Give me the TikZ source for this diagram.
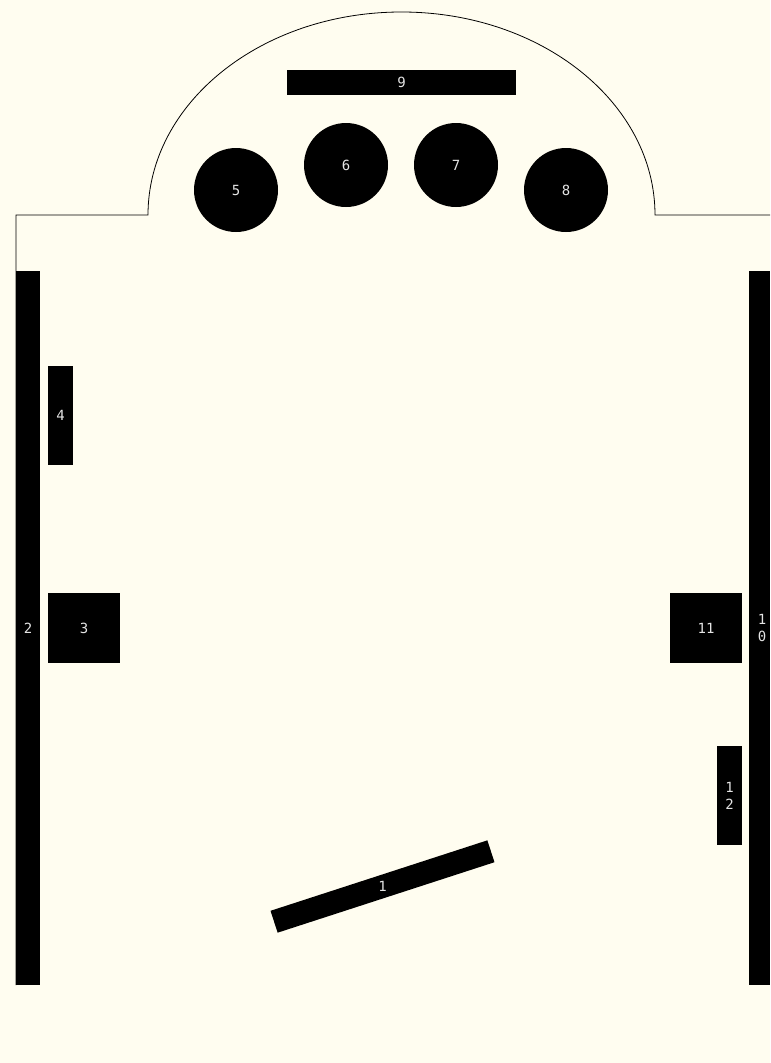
\documentclass[tikz,border=0pt]{standalone}
\usepackage{fontspec}
\newfontfamily\tablefont{DejaVu Sans Mono}
\definecolor{cream}{RGB}{255,253,240}
\definecolor{lbl}{RGB}{228,228,228}

\begin{document}
\begin{tikzpicture}[x=1pt, y=-1pt,
  part/.style={fill=black, draw=none, inner sep=0pt, text=lbl,
    font=\tablefont\fontsize{14}{17}\selectfont, align=center},
  bumper/.style={part, circle, minimum size=84pt}]
  \fill[cream] (0,0) rectangle (770,1063);

  % Table outline with the round top
  \draw[line width=0.8pt] (16,985) -- (16,215) -- (148,215)
    arc[start angle=180, end angle=0, x radius=253.5pt, y radius=203pt] -- (770,215);

  % Walls
  \node[part, minimum width=24pt, minimum height=714pt] (wallL) at (28,628) {2};
  \node[part, minimum width=21pt, minimum height=714pt] (wallR) at (759.5,628) {};
  \node[text=lbl, font=\tablefont\fontsize{14}{17}\selectfont, align=center, inner sep=0pt] (wallRlbl) at (762,628) {1\\0};

  % Top bar and bumpers
  \node[part, minimum width=229pt, minimum height=25pt] (topbar) at (401.5,82.5) {9};
  \foreach \n/\x/\y in {5/236/190, 6/346/165, 7/456/165, 8/566/190}
    \node[bumper] (bump\n) at (\x,\y) {\n};

  % Side blocks
  \node[part, minimum width=25pt, minimum height=99pt] (post4) at (60.5,415.5) {4};
  \node[part, minimum width=72pt, minimum height=70pt] (block3) at (84,628) {3};
  \node[part, minimum width=72pt, minimum height=70pt] (block11) at (706,628) {11};
  \node[part, minimum width=25pt, minimum height=99pt] (post12) at (729.5,795.5) {1\\2};

  % Flipper
  \node[part, minimum width=228pt, minimum height=23pt, rotate=18] (flipper) at (382.5,886.5) {};
  \node[text=lbl, font=\tablefont\fontsize{14}{17}\selectfont, inner sep=0pt] (flipperlbl) at (flipper.center) {1};
\end{tikzpicture}
\end{document}
